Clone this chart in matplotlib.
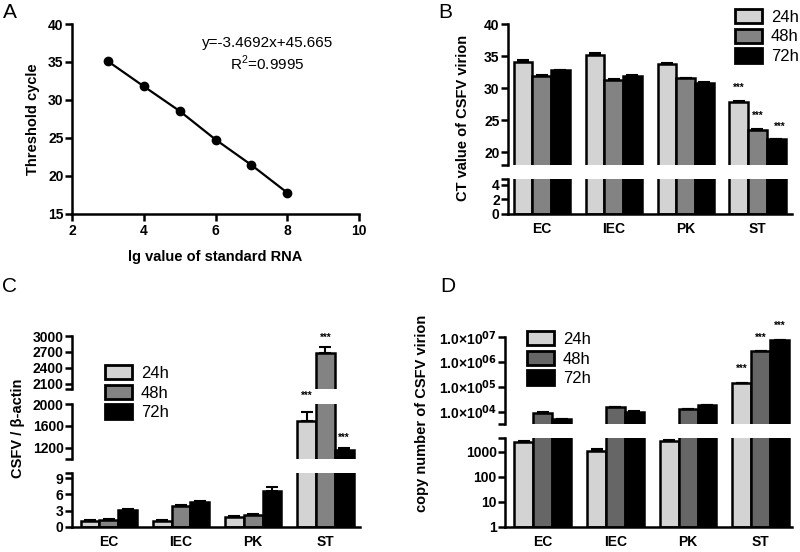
import numpy as np
import matplotlib
matplotlib.use("Agg")
import matplotlib.pyplot as plt
from matplotlib.patches import Patch
from matplotlib.ticker import FixedLocator, NullFormatter

plt.rcParams['font.family'] = ['Liberation Sans', 'DejaVu Sans']
plt.rcParams['font.weight'] = 'bold'
plt.rcParams['mathtext.default'] = 'bf'

# panel A: standard curve
lg_rna = [3, 4, 5, 6, 7, 8]
ct_std = [35.1, 31.8, 28.55, 24.8, 21.45, 17.8]

# shared categories
cells = ["EC", "IEC", "PK", "ST"]
hours = ["24h", "48h", "72h"]

# panel B: CT value
b_24 = [34.1, 35.2, 33.7, 27.9]
b_48 = [31.9, 31.3, 31.5, 23.5]
b_72 = [32.8, 31.9, 30.8, 22.0]
b_err_24 = [0.25, 0.2, 0.15, 0.1]
b_err_48 = [0.15, 0.15, 0.15, 0.1]
b_err_72 = [0.1, 0.1, 0.1, 0.1]

# panel C: CSFV / beta-actin
c_24 = [1.05, 1.0, 1.85, 1690]
c_48 = [1.25, 3.9, 2.2, 2680]
c_72 = [3.1, 4.6, 6.7, 1160]
c_err_24 = [0.1, 0.2, 0.2, 160]
c_err_48 = [0.15, 0.15, 0.2, 120]
c_err_72 = [0.15, 0.1, 0.6, 30]

# panel D: copy number
d_24 = [2350, 1100, 2750, 140000]
d_48 = [9000, 14900, 12400, 2.6e6]
d_72 = [5100, 10000, 19000, 7.6e6]
d_err_24 = [250, 150, 150, 5000]
d_err_48 = [400, 500, 400, 50000]
d_err_72 = [150, 200, 300, 80000]

col_light = "#d3d3d3"
col_mid = "#838383"
col_mid_d = "#666666"
col_dark = "#000000"

W, H = 800, 552
fig = plt.figure(figsize=(8, 5.52), dpi=100)


def rect(x0, y0, x1, y1):
    # pixel box (top-left origin) -> figure fraction
    return [x0 / W, 1 - y1 / H, (x1 - x0) / W, (y1 - y0) / H]


def style(ax, bottom=True):
    for s in ["top", "right"]:
        ax.spines[s].set_visible(False)
    ax.spines["left"].set_linewidth(1.8)
    ax.spines["bottom"].set_linewidth(1.8)
    if not bottom:
        ax.spines["bottom"].set_visible(False)
        ax.tick_params(axis="x", bottom=False, labelbottom=False)
    ax.tick_params(axis="y", which="both", direction="out", length=5, width=1.8, pad=1, labelsize=10)
    ax.tick_params(axis="x", length=0, pad=6, labelsize=10)
    ax.patch.set_alpha(0)


def bars(ax, vals, errs, colors, width=0.26, base=0, lo=None):
    # lo: lower limit of this segment, bars ending below it are left out
    x = np.arange(len(cells))
    for i in range(3):
        v = np.array(vals[i], dtype=float)
        e = np.array(errs[i], dtype=float)
        keep = np.ones(len(v), bool) if lo is None else (v + e) > lo
        xs = (x + (i - 1) * width)[keep]
        ax.bar(xs, v[keep] - base, width, bottom=base, color=colors[i],
               edgecolor="black", linewidth=1.8, zorder=2)
        ax.errorbar(xs, v[keep], yerr=[np.zeros(keep.sum()), e[keep]], fmt="none",
                    ecolor="black", elinewidth=1.5, capsize=4, capthick=1.5, zorder=3)
    ax.set_xticks(x)
    ax.set_xticklabels(cells)


def stars(ax, vals, errs, idx, offs, width=0.26, dx=(0, 0, 0)):
    for i in range(3):
        xs = idx + (i - 1) * width + dx[i]
        ax.annotate("***", (xs, vals[i][idx] + errs[i][idx]), xytext=(0, offs[i]),
                    textcoords="offset points", ha="center", va="bottom",
                    fontsize=7, fontweight="bold")


def legend(colors, x, y):
    hs = [Patch(facecolor=c, edgecolor="black", linewidth=2) for c in colors]
    fig.legend(hs, hours, loc="upper left", bbox_to_anchor=(x / W, 1 - y / H),
               frameon=False, prop={"size": 12, "weight": "normal"},
               handlelength=1.6, handleheight=0.95,
               handletextpad=0.55, labelspacing=0.22, borderpad=0, borderaxespad=0)


# ---------- A ----------
axA = fig.add_axes(rect(72, 24, 359, 214))
axA.plot(lg_rna, ct_std, color="black", lw=1.6, marker="o", ms=6)
axA.set_xlim(2, 10)
axA.set_ylim(15, 40)
axA.set_xticks([2, 4, 6, 8, 10])
axA.set_yticks([15, 20, 25, 30, 35, 40])
style(axA)
axA.tick_params(axis="x", length=5, width=1.8, direction="out", pad=2)
axA.text(0.68, 0.9, "y=-3.4692x+45.665", transform=axA.transAxes, ha="center", va="center",
         fontsize=11, fontweight="normal")
axA.text(0.68, 0.795, "R$^\\mathregular{2}$=0.9995", transform=axA.transAxes, ha="center", va="center",
         fontsize=11, fontweight="normal")
fig.text(215 / W, 1 - 257 / H, "lg value of standard RNA", ha="center", va="center", fontsize=10.5, fontweight="bold")
fig.text(33 / W, 1 - 119 / H, "Threshold cycle", ha="center", va="center", rotation=90, fontsize=10.5, fontweight="bold")

# ---------- B ----------
colsB = [col_light, col_mid, col_dark]
valsB = [b_24, b_48, b_72]
errsB = [b_err_24, b_err_48, b_err_72]
axB1 = fig.add_axes(rect(508, 24, 792, 165))
axB2 = fig.add_axes(rect(508, 179.5, 792, 213.5))
for ax in (axB1, axB2):
    bars(ax, valsB, errsB, colsB)
    ax.set_xlim(-0.47, 3.48)
axB1.set_ylim(18, 40)
axB1.set_yticks([20, 25, 30, 35, 40])
axB1.yaxis.set_minor_locator(FixedLocator([18]))
axB2.set_ylim(0, 4.7)
axB2.set_yticks([0, 2, 4])
axB2.yaxis.set_minor_locator(FixedLocator([4.7]))
style(axB1, bottom=False)
style(axB2)
stars(axB1, valsB, errsB, 3, [6, 6, 5], dx=(0, 0, 0.05))
fig.text(463 / W, 1 - 118 / H, "CT value of CSFV virion", ha="center", va="center", rotation=90, fontsize=10.5, fontweight="bold")
legend(colsB, 735, 9)

# ---------- C ----------
colsC = [col_light, col_mid, col_dark]
valsC = [c_24, c_48, c_72]
errsC = [c_err_24, c_err_48, c_err_72]
axC1 = fig.add_axes(rect(72, 336, 360, 389))
axC2 = fig.add_axes(rect(72, 404, 360, 458.7))
axC3 = fig.add_axes(rect(72, 472.7, 360, 526.7))
for ax, lo in ((axC1, 2000), (axC2, 1000), (axC3, None)):
    bars(ax, valsC, errsC, colsC, lo=lo)
    ax.set_xlim(-0.51, 3.48)
axC1.set_ylim(2000, 3000)
axC1.set_yticks([2100, 2400, 2700, 3000])
axC1.yaxis.set_minor_locator(FixedLocator([2000]))
axC2.set_ylim(1000, 2000)
axC2.set_yticks([1200, 1600, 2000])
axC2.yaxis.set_minor_locator(FixedLocator([1000]))
axC3.set_ylim(0, 10)
axC3.set_yticks([0, 3, 6, 9])
axC3.yaxis.set_minor_locator(FixedLocator([10]))
style(axC1, bottom=False)
style(axC2, bottom=False)
style(axC3)
axC2.annotate("***", (3 - 0.26, c_24[3] + c_err_24[3]), xytext=(0, 8), textcoords="offset points",
              ha="center", va="bottom", fontsize=7, fontweight="bold")
axC1.annotate("***", (3, c_48[3] + c_err_48[3]), xytext=(0, 3), textcoords="offset points",
              ha="center", va="bottom", fontsize=7, fontweight="bold")
axC2.annotate("***", (3 + 0.26, c_72[3] + c_err_72[3]), xytext=(0, 4), textcoords="offset points",
              ha="center", va="bottom", fontsize=7, fontweight="bold")
fig.text(18 / W, 1 - 428 / H, "CSFV / β-actin", ha="center", va="center", rotation=90, fontsize=10.5, fontweight="bold")
legend(colsC, 105, 365)

# ---------- D ----------
colsD = [col_light, col_mid_d, col_dark]
valsD = [d_24, d_48, d_72]
errsD = [d_err_24, d_err_48, d_err_72]
axD1 = fig.add_axes(rect(505, 336.7, 792, 423.7))
axD2 = fig.add_axes(rect(505, 438.3, 792, 526.7))
for ax, lo in ((axD1, 3311), (axD2, None)):
    ax.set_yscale("log")
    bars(ax, valsD, errsD, colsD, base=1, lo=lo)
    ax.set_xlim(-0.52, 3.43)
axD1.set_ylim(3311, 1e7)
axD1.yaxis.set_major_locator(FixedLocator([1e4, 1e5, 1e6, 1e7]))
axD1.set_yticklabels(["1.0×10$^{04}$", "1.0×10$^{05}$", "1.0×10$^{06}$", "1.0×10$^{07}$"])
axD1.yaxis.set_minor_locator(FixedLocator([3311]))
axD1.yaxis.set_minor_formatter(NullFormatter())
axD2.set_ylim(1, 3430)
axD2.yaxis.set_major_locator(FixedLocator([1, 10, 100, 1000]))
axD2.set_yticklabels(["1", "10", "100", "1000"])
axD2.yaxis.set_minor_locator(FixedLocator([3430]))
axD2.yaxis.set_minor_formatter(NullFormatter())
style(axD1, bottom=False)
style(axD2)
stars(axD1, valsD, errsD, 3, [6, 6, 6])
fig.text(422 / W, 1 - 413 / H, "copy number of CSFV virion", ha="center", va="center", rotation=90, fontsize=10.5, fontweight="bold")
legend(colsD, 527, 331)

# panel letters
for lab, x, y in [("A", 3, 3), ("B", 438, 3), ("C", 2, 277), ("D", 440, 277)]:
    fig.text(x / W, 1 - y / H, lab, ha="left", va="top", fontsize=15, fontweight="normal")

fig.savefig("out.png", dpi=100)
